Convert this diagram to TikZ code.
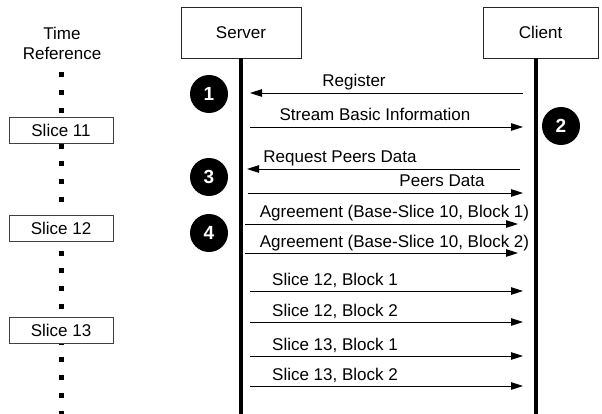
\documentclass[tikz,border=0pt]{standalone}
\usepackage{fontspec}
\setmainfont{Liberation Sans}
\usetikzlibrary{arrows.meta}
\begin{document}
\begin{tikzpicture}[x=1pt,y=-1pt,
  every node/.style={font=\fontsize{17}{20}\selectfont},
  actorbox/.style={draw=black!85,line width=0.9pt,fill=white,minimum height=51pt,inner sep=0pt},
  slicebox/.style={draw=black!75,line width=0.9pt,fill=white,minimum width=104pt,minimum height=26pt,inner sep=0pt},
  lifeline/.style={line width=4.6pt},
  msgline/.style={line width=0.9pt,-{Triangle[length=12pt,width=7.5pt]}},
  lbl/.style={anchor=base,inner sep=0pt},
  stepnum/.style={circle,fill=black,minimum size=38pt,inner sep=0pt,text=white,font=\fontsize{19}{20}\selectfont\bfseries},
  timedots/.style={line width=5pt,dash pattern=on 5pt off 12.8pt}]
\useasboundingbox (0,0) rectangle (602,414);
% time reference
\node[align=center,inner sep=0pt] (tref) at (62,43) {Time\\Reference};
\coordinate (dtop) at (61,72.5);
\coordinate (dbot) at (61,418);
\draw[timedots] (dtop) -- (dbot);
\node[slicebox] (s11) at (61,130) {Slice 11};
\node[slicebox] (s12) at (61,228) {Slice 12};
\node[slicebox] (s13) at (61,330.5) {Slice 13};
% actors
\node[actorbox,minimum width=120pt] (server) at (241,32.5) {Server};
\node[actorbox,minimum width=115pt] (client) at (540.5,32.5) {Client};
\coordinate (cltop) at (536,58);
\coordinate (send) at (241,416);
\coordinate (cend) at (536,416);
\draw[lifeline] (server.south) -- (send);
\draw[lifeline] (cltop) -- (cend);
% step markers
\node[stepnum] (n1) at (209,94) {1};
\node[stepnum] (n2) at (561,126) {2};
\node[stepnum] (n3) at (209,177) {3};
\node[stepnum] (n4) at (209,233) {4};
% messages
\newcommand\msgarrow[6]{%
  \coordinate (#1a) at (#3,#2);
  \coordinate (#1b) at (#4,#2);
  \draw[msgline] (#1a) -- (#1b);
  \node[lbl] (#1l) at (#5,#2-6) {#6};}
\msgarrow{m1}{93}{523}{250}{354}{Register}
\msgarrow{m2}{127}{250}{523}{375}{Stream Basic Information}
\msgarrow{m3}{169}{520}{247}{340}{Request Peers Data}
\msgarrow{m4}{193}{248}{523}{442}{Peers Data}
\msgarrow{m5}{224}{245}{518}{394.5}{Agreement (Base-Slice 10, Block 1)}
\msgarrow{m6}{253}{245}{518}{394.5}{Agreement (Base-Slice 10, Block 2)}
\msgarrow{m7}{291}{250}{523}{335}{Slice 12, Block 1}
\msgarrow{m8}{322}{250}{523}{335}{Slice 12, Block 2}
\msgarrow{m9}{356}{250}{523}{335}{Slice 13, Block 1}
\msgarrow{m10}{386}{250}{523}{335}{Slice 13, Block 2}
\end{tikzpicture}
\end{document}
